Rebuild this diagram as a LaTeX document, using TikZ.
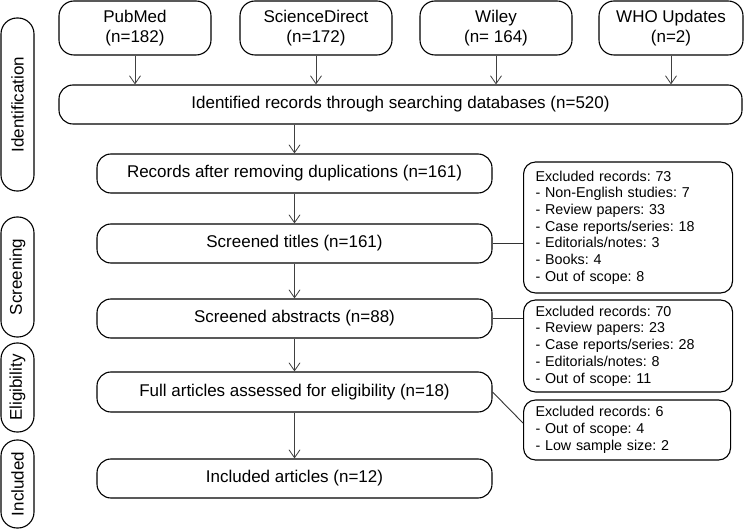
\documentclass[tikz,border=0pt]{standalone}
\usepackage{fontspec}
\setmainfont{Liberation Sans}
\usetikzlibrary{arrows.meta}
\frenchspacing
\begin{document}
\begin{tikzpicture}[x=1pt,y=-1pt,
  box/.style={draw=black, line width=1.1pt, rounded corners=14pt, inner sep=0pt, align=center,
    font=\fontsize{17}{20.5}\selectfont},
  srcbox/.style={box, minimum width=152pt, minimum height=54pt, rounded corners=15pt},
  mainbox/.style={box, minimum width=395pt, minimum height=39pt},
  pill/.style={draw=black, line width=1.1pt, rounded corners=16pt, inner sep=0pt, rotate=90,
    minimum height=33pt, font=\fontsize{17}{20}\selectfont},
  exbox/.style={draw=black, line width=1.1pt, rounded corners=12pt, inner xsep=12pt, inner ysep=0pt,
    align=left, text width=185pt, anchor=west, font=\fontsize{14.3}{16.7}\selectfont},
  arr/.style={draw=black!75, line width=0.8pt, -{Straight Barb[length=8pt,width=11pt,line width=0.8pt]}},
  lnk/.style={draw=black!80, line width=0.9pt}
]
\useasboundingbox (0,0) rectangle (750,529);

% side pills
\node[pill, minimum width=173pt] (pid) at (17.5,104.5) {Identification};
\node[pill, minimum width=120pt] (psc) at (17.5,277) {Screening};
\node[pill, minimum width=89pt] (pel) at (17.5,387.5) {Eligibility};
\node[pill, minimum width=88pt] (pin) at (17.5,484) {Included};

% sources
\node[srcbox] (pub) at (135,28) {PubMed\\(n=182)};
\node[srcbox] (sci) at (316,28) {ScienceDirect\\(n=172)};
\node[srcbox] (wil) at (496,28) {Wiley\\(n= 164)};
\node[srcbox, minimum width=144pt] (who) at (671,28) {WHO Updates\\(n=2)};

% main flow
\node[box, minimum width=683pt, minimum height=39pt] (ident) at (400.5,104.5) {Identified records through searching databases (n=520)};
\node[mainbox] (rec) at (294.5,173.5) {Records after removing duplications (n=161)};
\node[mainbox] (tit) at (294.5,243.5) {Screened titles (n=161)};
\node[mainbox] (abs) at (294.5,318.5) {Screened abstracts (n=88)};
\node[mainbox, minimum height=40pt] (full) at (294.5,392) {Full articles assessed for eligibility (n=18)};
\node[mainbox] (inc) at (294.5,478.5) {Included articles (n=12)};

% excluded boxes
\node[exbox, minimum height=131pt] (ex1) at (523,227.5) {Excluded records: 73\\- Non-English studies: 7\\- Review papers: 33\\- Case reports/series: 18\\- Editorials/notes: 3\\- Books: 4\\- Out of scope: 8};
\node[exbox, minimum height=92pt] (ex2) at (523,346) {Excluded records: 70\\- Review papers: 23\\- Case reports/series: 28\\- Editorials/notes: 8\\- Out of scope: 11};
\node[exbox, minimum height=60pt, text width=183pt] (ex3) at (523,430) {Excluded records: 6\\- Out of scope: 4\\- Low sample size: 2};
\coordinate (e3in) at (523,423);

% arrows
\draw[arr] (pub.south) -- (pub.south |- ident.north);
\draw[arr] (sci.south) -- (sci.south |- ident.north);
\draw[arr] (wil.south) -- (wil.south |- ident.north);
\draw[arr] (who.south) -- (who.south |- ident.north);
\draw[arr] (rec.north |- ident.south) -- (rec.north);
\draw[arr] (rec.south) -- (tit.north);
\draw[arr] (tit.south) -- (abs.north);
\draw[arr] (abs.south) -- (full.north);
\draw[arr] (full.south) -- (inc.north);

% exclusion links
\draw[lnk] (tit.east) -- (tit.east -| ex1.west);
\draw[lnk] (abs.east) -- (abs.east -| ex2.west);
\draw[lnk] (full.east) -- (e3in);
\end{tikzpicture}
\end{document}
